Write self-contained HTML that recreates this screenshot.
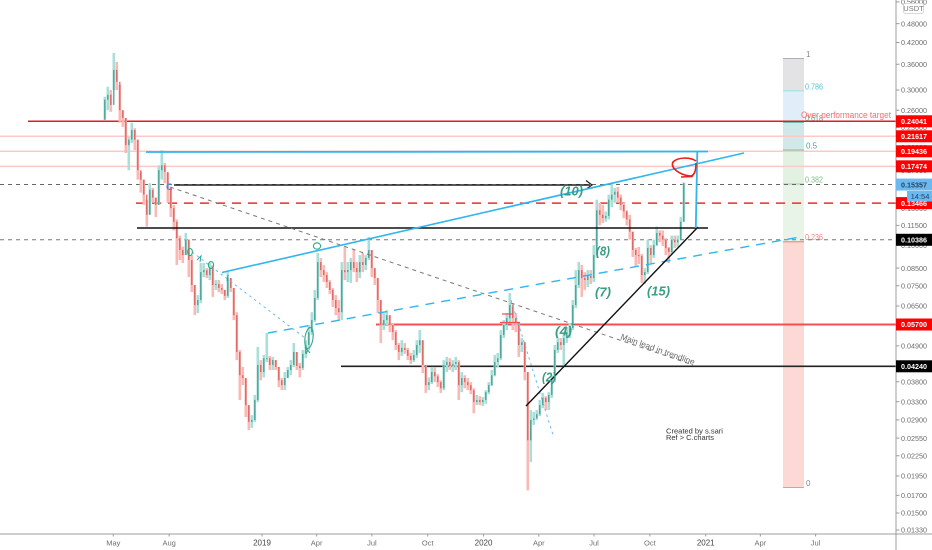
<!DOCTYPE html>
<html>
<head>
<meta charset="utf-8">
<title>Chart</title>
<style>
html,body{margin:0;padding:0;background:#fff;width:932px;height:550px;overflow:hidden}
svg{display:block;font-family:"Liberation Sans",sans-serif;filter:blur(0.35px)}
</style>
</head>
<body>
<svg id="chart" width="932" height="550" viewBox="0 0 932 550" xmlns="http://www.w3.org/2000/svg">
  <rect x="0" y="0" width="932" height="550" fill="#ffffff"/>
  <g id="fib">
    <rect x="783" y="59" width="21" height="32" fill="#e3e3e6"/>
    <rect x="783" y="91" width="21" height="31" fill="#e0eefa"/>
    <rect x="783" y="122" width="21" height="28" fill="#d0e8ea"/>
    <rect x="783" y="150" width="21" height="34" fill="#e3f1e2"/>
    <rect x="783" y="184" width="21" height="58" fill="#e9f4e8"/>
    <rect x="783" y="242" width="21" height="245" fill="#fdd9d6"/>
    <rect x="783" y="58" width="21" height="1" fill="#b4aebb"/>
    <rect x="783" y="90" width="21" height="1.5" fill="#b4e2e4"/>
    <rect x="783" y="121.5" width="21" height="1.5" fill="#70c0a8"/>
    <rect x="783" y="149.5" width="21" height="1.5" fill="#7fc19a"/>
    <rect x="783" y="183.5" width="21" height="1" fill="#9ccf9c"/>
    <rect x="783" y="241" width="21" height="1.5" fill="#f59a94"/>
    <rect x="783" y="487" width="21" height="1" fill="#b3b0b0"/>
    <text x="806" y="57" font-size="8" fill="#888">1</text>
    <text x="805" y="89.5" font-size="8" fill="#55c4cf" textLength="18" lengthAdjust="spacingAndGlyphs">0.786</text>
    <text x="805" y="121" font-size="8" fill="#4aa88c" textLength="18" lengthAdjust="spacingAndGlyphs">0.618</text>
    <text x="806" y="148.5" font-size="8" fill="#4aa88c">0.5</text>
    <text x="805" y="182.5" font-size="8" fill="#7fbf8a" textLength="18" lengthAdjust="spacingAndGlyphs">0.382</text>
    <text x="805" y="240" font-size="8" fill="#f37f7a" textLength="18" lengthAdjust="spacingAndGlyphs">0.236</text>
    <text x="806" y="486" font-size="8" fill="#888">0</text>
  </g>
  <g id="levels-back"></g>
  <g id="candles"></g>
  <g id="drawings" fill="none">
    <line x1="146" y1="152" x2="708" y2="151.5" stroke="#2fb5f0" stroke-width="1.8"/>
    <line x1="174" y1="185" x2="590" y2="185" stroke="#222" stroke-width="1.5"/>
    <path d="M586 180.5 L592 185 L587 188.5" stroke="#222" stroke-width="1.2"/>
    <line x1="137" y1="228" x2="708" y2="228" stroke="#111" stroke-width="1.6"/>
    <line x1="170" y1="187" x2="693" y2="365" stroke="#777" stroke-width="1" stroke-dasharray="4 4"/>
    <line x1="222" y1="272.5" x2="744" y2="153" stroke="#2fb5f0" stroke-width="1.6"/>
    <line x1="268" y1="333" x2="800" y2="237" stroke="#2fb5f0" stroke-width="1.4" stroke-dasharray="9 7"/>
    <line x1="192" y1="252" x2="305" y2="338" stroke="#6db7ee" stroke-width="1" stroke-dasharray="2.5 3.5"/>
    <line x1="511" y1="300" x2="553" y2="435" stroke="#6db7ee" stroke-width="1" stroke-dasharray="2.5 3.5"/>
    <line x1="526" y1="406" x2="698" y2="227" stroke="#111" stroke-width="1.4"/>
    <line x1="695.8" y1="228" x2="697.3" y2="152" stroke="#2fb5f0" stroke-width="1.8"/>
    <path d="M696 161 C690 157 678 157 673 162 C670 168 680 175 690 176 C694 176 696 172 696 163 M695 172 L692 176.5 L681 177" stroke="#ee1c1c" stroke-width="1.6"/>
    <ellipse cx="317" cy="246" rx="3.6" ry="3.2" stroke="#2fa98b" stroke-width="1.1"/>
    <ellipse cx="309" cy="338" rx="4" ry="10.5" stroke="#2fa98b" stroke-width="1.1" transform="rotate(8 309 338)"/>
    <ellipse cx="190" cy="252" rx="2.4" ry="3.6" stroke="#2fa98b" stroke-width="1.1"/>
    <ellipse cx="211" cy="265" rx="2.6" ry="3.4" stroke="#2fa98b" stroke-width="1.1"/>
    <path d="M197 260 L201 256 L200 262" stroke="#2fa98b" stroke-width="1"/>
    <path d="M305 347 L310 353 M308 350 L306 354" stroke="#2fa98b" stroke-width="1"/>
    <path d="M228 275 L227 281" stroke="#2fa98b" stroke-width="1"/>
    <path d="M172 185 C170 183 167 184 167 187 C167 189 169 190 172 189" stroke="#2f8ff0" stroke-width="1.1"/>
    <line x1="502" y1="314" x2="513" y2="314" stroke="#f05050" stroke-width="1.2"/>
    <line x1="500" y1="322.5" x2="520" y2="322.5" stroke="#f05050" stroke-width="1.2"/>
  </g>
  <g id="annotations" font-style="italic" font-weight="700" fill="#3a9e84" font-size="13">
    <text x="560" y="195.5" textLength="23" lengthAdjust="spacingAndGlyphs">(10)</text>
    <text x="596" y="255.5" textLength="14" lengthAdjust="spacingAndGlyphs">(8)</text>
    <text x="595" y="296.5" textLength="16" lengthAdjust="spacingAndGlyphs">(7)</text>
    <text x="647" y="295.5" textLength="23" lengthAdjust="spacingAndGlyphs">(15)</text>
    <text x="555" y="335.5" textLength="17" lengthAdjust="spacingAndGlyphs">(4)</text>
    <text x="542" y="381.5" textLength="14" lengthAdjust="spacingAndGlyphs">(2)</text>
  </g>
  <text x="620" y="339" font-size="8.5" fill="#666" textLength="78" lengthAdjust="spacingAndGlyphs" transform="rotate(19.5 620 339)">Main lead in trendline</text>
  <text x="801" y="118" font-size="9.5" fill="#f26d6d" textLength="90" lengthAdjust="spacingAndGlyphs">Over performance target</text>
  <text x="666" y="433.5" font-size="7.5" fill="#333" textLength="57" lengthAdjust="spacingAndGlyphs">Created by s.sari</text>
  <text x="666" y="440" font-size="7.5" fill="#333" textLength="48" lengthAdjust="spacingAndGlyphs">Ref &gt; C.charts</text>
  <g id="axes">
    <rect x="895.5" y="0" width="1" height="550" fill="#9c9c9c"/>
    <rect x="0" y="533.5" width="932" height="1" fill="#9c9c9c"/>
  </g>
  <g id="levels-front"></g>
  <rect x="903.5" y="3.5" width="20" height="10" rx="2" fill="#fff" stroke="#d8d8d8"/>
  <text x="913.5" y="11" text-anchor="middle" font-size="7.5" fill="#777">USDT</text>
  <rect x="896.5" y="191" width="11" height="5" fill="#ffffff"/>
  <rect x="907" y="191" width="25" height="10.5" fill="#6cb8f0"/>
  <text x="920" y="199" text-anchor="middle" font-size="7.5" fill="#24455e">14:54</text>
</svg>
<script>
const candleStartDay = -14;
const candleStepDays = 4.942;
const closes = [.280,.290,.270,.346,.318,.260,.246,.203,.211,.226,.211,.170,.159,.143,.124,.148,.140,.133,.170,.176,.168,.150,.130,.118,.105,.0966,.0932,.104,.0900,.0754,.0654,.0678,.0826,.0838,.0809,.0850,.0754,.0759,.0738,.0728,.0698,.0792,.0738,.0609,.0469,.0398,.0390,.0322,.0286,.0290,.0334,.0428,.0407,.0449,.0449,.0428,.0443,.0422,.0384,.0371,.0390,.0413,.0428,.0469,.0425,.0419,.0463,.0493,.0540,.0588,.0688,.0887,.0838,.0809,.0770,.0728,.0678,.0640,.0622,.0838,.0826,.0838,.0887,.0850,.0826,.0887,.0869,.0913,.0966,.0850,.0792,.0678,.0568,.0588,.0609,.0568,.0540,.0493,.0469,.0483,.0476,.0456,.0443,.0459,.0493,.0510,.0428,.0371,.0379,.0407,.0395,.0379,.0363,.0428,.0437,.0425,.0431,.0437,.0371,.0390,.0379,.0371,.0358,.0329,.0334,.0329,.0334,.0353,.0371,.0398,.0437,.0449,.0529,.0568,.0596,.0654,.0596,.0580,.0493,.0503,.0407,.0251,.0290,.0293,.0302,.0322,.0339,.0329,.0346,.0384,.0476,.0503,.0493,.0518,.0540,.0556,.0654,.0754,.0838,.0792,.0781,.0803,.0792,.0932,.128,.124,.121,.123,.138,.143,.146,.140,.133,.127,.120,.110,.0966,.0932,.0926,.0809,.0826,.0980,.0932,.100,.109,.107,.104,.0980,.0952,.104,.102,.104,.118,.155];
const highs = [.286,.307,.300,.390,.366,.311,.260,.246,.215,.238,.229,.211,.168,.159,.138,.155,.150,.140,.176,.196,.179,.167,.150,.133,.120,.107,.099,.109,.104,.0932,.0754,.0702,.0881,.0881,.0850,.0881,.0869,.0781,.0781,.0759,.0728,.0826,.0792,.0738,.0622,.0476,.0422,.0390,.0322,.0300,.0346,.0486,.0443,.0459,.0537,.0456,.0453,.0443,.0422,.0390,.0407,.0422,.0443,.0500,.0469,.0434,.0476,.0510,.0568,.0622,.0728,.0946,.0913,.0869,.0826,.0781,.0738,.0702,.0678,.0887,.0987,.0887,.0913,.0966,.0887,.0932,.0946,.0932,.106,.0966,.0850,.0792,.0678,.0618,.0631,.0609,.0576,.0548,.0500,.0510,.0500,.0483,.0466,.0476,.0510,.0548,.0510,.0428,.0392,.0422,.0422,.0401,.0384,.0443,.0453,.0449,.0443,.0453,.0443,.0407,.0398,.0390,.0379,.0363,.0346,.0343,.0341,.0358,.0379,.0413,.0459,.0466,.0548,.0588,.0618,.0712,.0663,.0618,.0580,.0518,.0503,.0407,.0311,.0307,.0311,.0334,.0351,.0343,.0353,.0398,.0493,.0518,.0518,.0540,.0560,.0576,.0678,.0838,.0887,.0869,.0826,.0838,.0838,.100,.138,.135,.133,.127,.143,.155,.150,.151,.143,.135,.128,.124,.110,.0980,.0987,.0939,.0850,.104,.100,.104,.114,.111,.111,.105,.0987,.107,.107,.107,.122,.156];
const lows = [.243,.260,.257,.300,.300,.238,.231,.192,.170,.206,.196,.159,.145,.133,.114,.124,.135,.122,.133,.159,.155,.135,.122,.111,.0869,.0900,.0881,.0932,.0798,.0717,.0609,.0618,.0663,.0798,.0792,.0781,.0693,.0728,.0717,.0707,.0678,.0688,.0717,.0588,.0443,.0334,.0371,.0296,.0270,.0274,.0286,.0329,.0384,.0392,.0437,.0413,.0413,.0413,.0366,.0358,.0358,.0390,.0398,.0422,.0413,.0392,.0413,.0449,.0476,.0529,.0580,.0678,.0798,.0770,.0738,.0707,.0645,.0609,.0588,.0588,.0781,.0770,.0765,.0826,.0770,.0792,.0826,.0838,.0900,.0798,.0754,.0618,.0500,.0548,.0568,.0540,.0510,.0476,.0443,.0456,.0463,.0443,.0431,.0437,.0449,.0466,.0404,.0351,.0358,.0374,.0379,.0366,.0351,.0358,.0407,.0413,.0407,.0413,.0334,.0353,.0363,.0358,.0348,.0304,.0322,.0322,.0320,.0325,.0348,.0369,.0395,.0422,.0443,.0518,.0548,.0576,.0548,.0540,.0453,.0469,.0384,.0176,.0215,.0280,.0290,.0298,.0315,.0311,.0311,.0339,.0379,.0466,.0476,.0428,.0500,.0518,.0548,.0640,.0738,.0693,.0728,.0743,.0759,.0770,.0913,.115,.117,.118,.120,.131,.135,.135,.128,.121,.115,.104,.0919,.0857,.0875,.0765,.0759,.0815,.0881,.0913,.0994,.102,.0994,.0932,.0881,.0939,.0980,.0987,.104,.118];
const priceTicks = [0.56,0.48,0.42,0.36,0.30,0.26,0.23,0.20,0.17,0.13,0.115,0.10,0.085,0.075,0.065,0.049,0.038,0.033,0.029,0.0255,0.0225,0.0195,0.017,0.015,0.0133];
const timeTickDays = [0,92,245,335,426,518,610,701,792,884,976,1066,1157];
const timeTickLabels = ['May','Aug','2019','Apr','Jul','Oct','2020','Apr','Jul','Oct','2021','Apr','Jul'];
const level240 = 0.24041;
const level216 = 0.21617;
const level194 = 0.19436;
const level174 = 0.17474;
const levelLast = 0.15357;
const level134 = 0.13466;
const level103 = 0.10386;
const level057 = 0.05700;
const level042 = 0.04240;

const NS = 'http://www.w3.org/2000/svg';
const svg = document.getElementById('chart');
function yScale(price) { return 42.5 + 141.2 * Math.log(0.42 / price); }
function xScale(day) { return 113.3 + 0.607 * day; }
function make(parent, tag, attrs) {
  const el = document.createElementNS(NS, tag);
  for (const k in attrs) el.setAttribute(k, attrs[k]);
  parent.appendChild(el);
  return el;
}

const candleGroup = document.getElementById('candles');
const wickUp = '#a9dfd8', wickDown = '#fbb9b6', bodyUp = '#3f9a90', bodyDown = '#d95a56';
closes.forEach(function (c, i) {
  const open = i === 0 ? lows[0] : closes[i - 1];
  const x = xScale(candleStartDay + i * candleStepDays);
  const wick = make(candleGroup, 'line', {x1: x, x2: x, y1: yScale(highs[i]), y2: yScale(lows[i]), stroke: c >= open ? wickUp : wickDown, 'stroke-width': 2.6});
  
  
});
closes.forEach(function (c, i) {
  const open = i === 0 ? lows[0] : closes[i - 1];
  const x = xScale(candleStartDay + i * candleStepDays);
  const top = yScale(Math.max(open, c));
  const bottom = yScale(Math.min(open, c));
  const body = make(candleGroup, 'rect', {x: x - 0.6, y: top, width: 1.2, height: Math.max(1, bottom - top), fill: c >= open ? bodyUp : bodyDown});
  
  
});

const axes = document.getElementById('axes');
priceTicks.forEach(function (p) {
  const y = yScale(p);
  const tick = make(axes, 'rect', {x: 896.5, y: y - 0.5, width: 3, height: 1, fill: '#9c9c9c'});
  
  
  const label = make(axes, 'text', {x: 901, y: y + 2.7, 'font-size': 7.5, fill: '#6a6a6a', textLength: 26, lengthAdjust: 'spacingAndGlyphs'});
  label.textContent = p.toFixed(5);
  
  
});
timeTickDays.forEach(function (d, i) {
  const x = xScale(d);
  const tick = make(axes, 'rect', {x: x - 0.5, y: 534, width: 1, height: 2.5, fill: '#9c9c9c'});
  
  
  const isYear = /^20/.test(timeTickLabels[i]);
  const label = make(axes, 'text', {x: x, y: 545.5, 'text-anchor': 'middle', 'font-size': isYear ? 8 : 7.5, fill: isYear ? '#444' : '#6f6f6f'});
  label.textContent = timeTickLabels[i];
  
  
});

const back = document.getElementById('levels-back');
const front = document.getElementById('levels-front');
function drawLevel(price, x1, color, width, dash, boxColor, textColor) {
  const y = yScale(price);
  const line = make(back, 'line', {x1: x1, x2: 896, y1: y, y2: y, stroke: color, 'stroke-width': width});
  if (dash) line.setAttribute('stroke-dasharray', dash);
  
  
  const box = make(front, 'rect', {x: 896, y: y - 6, width: 36, height: 12, fill: boxColor});
  
  
  const text = make(front, 'text', {x: 901, y: y + 2.7, 'font-size': 7.5, 'font-weight': 700, fill: textColor, textLength: 26, lengthAdjust: 'spacingAndGlyphs'});
  text.textContent = price.toFixed(5);
  
  
}
drawLevel(level216, 0, '#fcc9c7', 1.5, '', '#ff0000', '#fff');
drawLevel(level194, 0, '#fcc9c7', 1.5, '', '#ff0000', '#fff');
drawLevel(level174, 0, '#fcc9c7', 1.5, '', '#ff0000', '#fff');
drawLevel(level240, 28, '#e31b1b', 1.5, '', '#ff0000', '#fff');
drawLevel(levelLast, 0, '#666', 1, '4 4', '#6cb8f0', '#24455e');
drawLevel(level134, 136, '#ea2f2f', 1.5, '9 7', '#ff0000', '#fff');
drawLevel(level103, 0, '#777', 1, '4 4', '#000', '#fff');
drawLevel(level057, 376, '#f64f4f', 2, '', '#ff0000', '#fff');
drawLevel(level042, 341, '#222', 1.6, '', '#000', '#fff');
</script>
</body>
</html>
